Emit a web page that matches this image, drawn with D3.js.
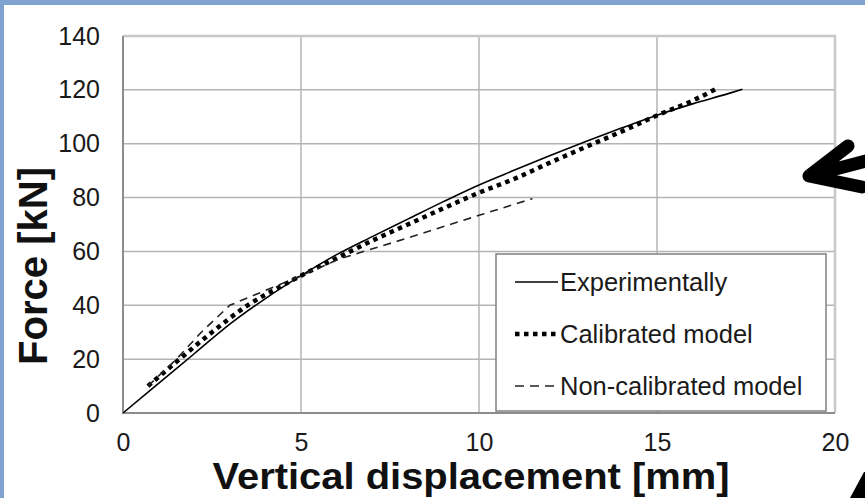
<!DOCTYPE html>
<html>
<head>
<meta charset="utf-8">
<script src="https://cdn.jsdelivr.net/npm/d3@7/dist/d3.min.js"></script>
<style>
  html, body { margin: 0; padding: 0; background: #fff; }
  svg { display: block; font-family: "Liberation Sans", Arial, sans-serif; }
</style>
</head>
<body>
<div id="chart"></div>
<script>
(function() {
  'use strict';

  // displacement [mm] / force [kN]
  const expX = [0, 1, 2, 3, 4, 5, 6, 7, 8, 9, 10, 11, 12, 13, 14, 15, 16, 17, 17.4];
  const expY = [0, 11, 22, 33, 42.5, 51, 58.8, 65.5, 72, 78.5, 84.7, 90.2, 95.6, 100.8, 105.8, 110.6, 114.8, 118.6, 120.2];

  const calX = [0.7, 1.5, 2.5, 3.5, 4.5, 5, 6, 7, 8, 9, 10, 11, 12, 13, 14, 15, 16, 16.7];
  const calY = [10, 19, 30, 40, 47.5, 51, 57.5, 64, 70, 76, 81.8, 87, 93, 98.8, 104.5, 110.5, 116, 120.6];

  const nonX = [0.7, 1.5, 2.2, 3, 4, 5, 6.1, 8, 10, 11.5];
  const nonY = [10, 20, 30, 40, 45.5, 51, 57.3, 65, 73.4, 79.6];

  const xTicks = [0, 5, 10, 15, 20];
  const yTicks = [0, 20, 40, 60, 80, 100, 120, 140];
  const legendLabels = ['Experimentally', 'Calibrated model', 'Non-calibrated model'];

  const width = 865, height = 498;
  const plot = { left: 123, right: 835, top: 36, bottom: 413 };

  const svg = d3.select('#chart').append('svg')
    .attr('width', width)
    .attr('height', height);

  // slide frame
  svg.append('rect').attr('x', 0).attr('y', 0).attr('width', width).attr('height', 5).attr('fill', '#7fa3ce');
  svg.append('rect').attr('x', 0).attr('y', 0).attr('width', 4).attr('height', height).attr('fill', '#7fa3ce');

  const x = d3.scaleLinear().domain([0, 20]).range([plot.left, plot.right]);
  const y = d3.scaleLinear().domain([0, 140]).range([plot.bottom, plot.top]);

  // Grid
  const grid = svg.append('g').attr('stroke', '#b4b4b4').attr('stroke-width', 1.5);
  grid.selectAll('.gy').data(yTicks.slice(1, -1)).join('line')
    .attr('x1', plot.left).attr('x2', plot.right)
    .attr('y1', d => y(d)).attr('y2', d => y(d));
  grid.selectAll('.gx').data(xTicks.slice(1, -1)).join('line')
    .attr('y1', plot.top).attr('y2', plot.bottom)
    .attr('x1', d => x(d)).attr('x2', d => x(d));

  // outer frame: light top/right, darker axes
  svg.append('path')
    .attr('d', `M${plot.left},${plot.top}H${plot.right}V${plot.bottom}`)
    .attr('fill', 'none').attr('stroke', '#c8c8c8').attr('stroke-width', 2.5);
  svg.append('path')
    .attr('d', `M${plot.left},${plot.top}V${plot.bottom}H${plot.right}`)
    .attr('fill', 'none').attr('stroke', '#8c8c8c').attr('stroke-width', 2);

  // Axes (labels only)
  const xAxis = svg.append('g')
    .attr('transform', `translate(0,${plot.bottom + 17})`)
    .call(d3.axisBottom(x).tickValues(xTicks).tickSize(0).tickFormat(d3.format('d')));
  const yAxis = svg.append('g')
    .attr('transform', `translate(${plot.left - 10},0)`)
    .call(d3.axisLeft(y).tickValues(yTicks).tickSize(0).tickFormat(d3.format('d')));
  [xAxis, yAxis].forEach(a => {
    a.select('.domain').remove();
    a.selectAll('text')
      .attr('font-family', '"Liberation Sans", Arial, sans-serif')
      .attr('font-size', 25)
      .attr('fill', '#1a1a1a');
  });
  yAxis.selectAll('text').attr('x', -13);

  // Axis titles
  svg.append('text')
    .attr('x', 471).attr('y', 489)
    .attr('text-anchor', 'middle')
    .attr('font-size', 36).attr('font-weight', 'bold').attr('fill', '#111')
    .attr('textLength', 517).attr('lengthAdjust', 'spacingAndGlyphs')
    .text('Vertical displacement [mm]');
  svg.append('text')
    .attr('transform', 'translate(47,266) rotate(-90)')
    .attr('text-anchor', 'middle')
    .attr('font-size', 40).attr('font-weight', 'bold').attr('fill', '#111')
    .attr('textLength', 198).attr('lengthAdjust', 'spacingAndGlyphs')
    .text('Force [kN]');

  // Series
  const smooth = d3.line().x(d => x(d[0])).y(d => y(d[1])).curve(d3.curveMonotoneX);
  const straight = d3.line().x(d => x(d[0])).y(d => y(d[1]));
  const series = [
    { pts: d3.zip(expX, expY), width: 1.6, dash: null, color: '#000', gen: smooth },
    { pts: d3.zip(calX, calY), width: 4.5, dash: '4.5 4.5', color: '#000', gen: smooth },
    { pts: d3.zip(nonX, nonY), width: 1.6, dash: '8 6', color: '#222', gen: straight }
  ];

  svg.append('g').selectAll('path').data(series).join('path')
    .attr('d', d => d.gen(d.pts))
    .attr('fill', 'none')
    .attr('stroke', d => d.color)
    .attr('stroke-width', d => d.width)
    .attr('stroke-dasharray', d => d.dash);

  // Legend
  const legend = svg.append('g');
  legend.append('rect')
    .attr('x', 496).attr('y', 254).attr('width', 330).attr('height', 157)
    .attr('fill', '#fff').attr('stroke', '#808080').attr('stroke-width', 1.5);

  const rows = legend.selectAll('g.row').data(series).join('g')
    .attr('transform', (d, i) => `translate(0,${282 + i * 52})`);
  rows.append('line')
    .attr('x1', 515).attr('x2', 558).attr('y1', 0).attr('y2', 0)
    .attr('stroke', d => d.color)
    .attr('stroke-width', d => d.width)
    .attr('stroke-dasharray', (d, i) => i === 2 ? '9 6' : d.dash);
  rows.append('text')
    .attr('x', 560).attr('y', 0).attr('dy', '0.35em')
    .attr('font-size', 25.5).attr('fill', '#1a1a1a')
    .text((d, i) => legendLabels[i]);

  // Annotation arrows from the slide
  svg.append('path')
    .attr('d', 'M848,146L809,176L862,187M809,176L870,160')
    .attr('fill', 'none').attr('stroke', '#000')
    .attr('stroke-width', 13).attr('stroke-linecap', 'round').attr('stroke-linejoin', 'round');
  svg.append('path')
    .attr('d', 'M864,472L866,472L866,498L850,498Z')
    .attr('fill', '#000');
})();
</script>
</body>
</html>
